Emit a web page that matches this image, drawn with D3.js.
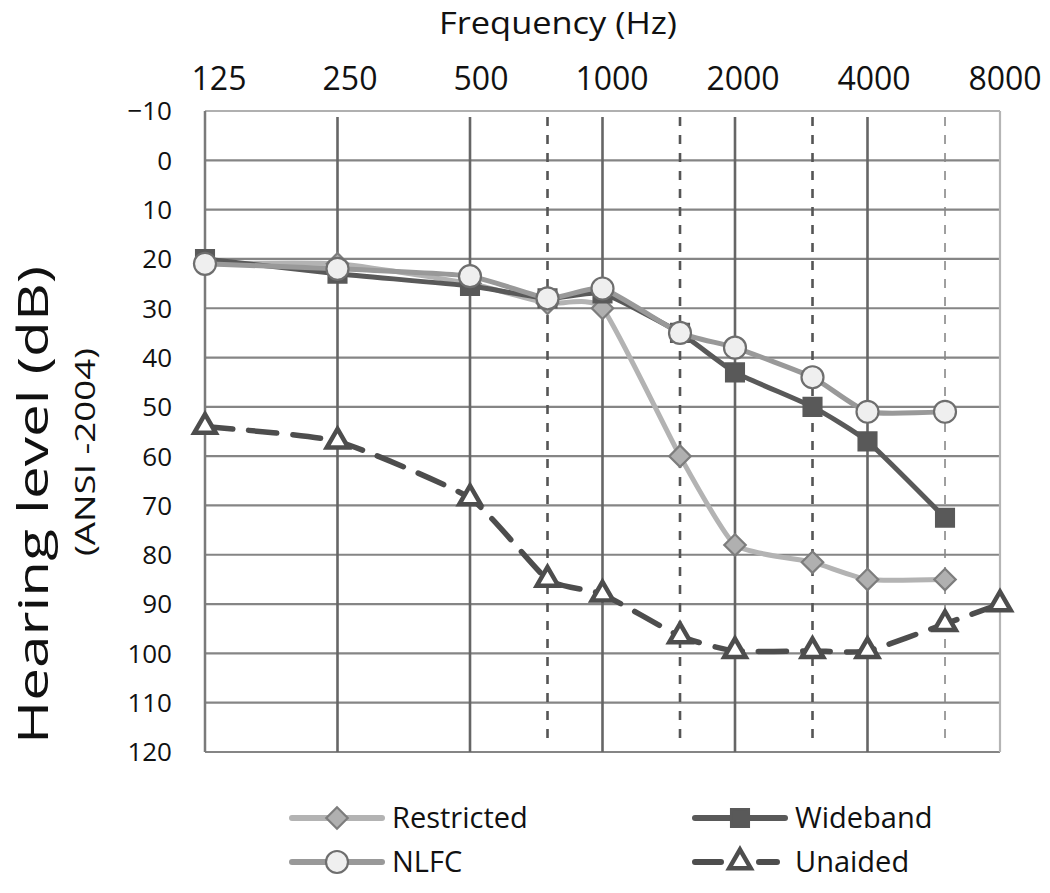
<!DOCTYPE html>
<html>
<head>
<meta charset="utf-8">
<script src="https://cdn.jsdelivr.net/npm/d3@7"></script>
<style>
  body { margin: 0; background: #fff; }
  text { font-family: "Open Sans", sans-serif; fill: #111; }
</style>
</head>
<body>
<svg id="chart" width="1050" height="893"></svg>
<script>
// data
const freqs = [125, 250, 500, 750, 1000, 1500, 2000, 3000, 4000, 6000, 8000];
const freqLabels = [125, 250, 500, 1000, 2000, 4000, 8000];
const solidLines = [250, 500, 1000, 2000, 4000];
const dashedLines = [750, 1500, 3000, 6000];
const dbTicks = d3.range(-10, 121, 10);

const restricted = [21, 21, 25, 29, 30, 60, 78, 81.5, 85, 85];
const wideband   = [20, 23, 25.5, 28, 27, 35, 43, 50, 57, 72.5];
const nlfc       = [21, 22, 23.5, 28, 26, 35, 38, 44, 51, 51];
const unaided    = [54, 57, 68.5, 85, 88, 96.5, 99.5, 99.5, 99.5, 94, 90];

const margin = {left: 205, right: 50, top: 111, bottom: 141};
const width = 1050, height = 893;

const svg = d3.select('#chart');

const x = d3.scaleLog().base(2).domain([125, 8000]).range([margin.left, width - margin.right]);
const y = d3.scaleLinear().domain([-10, 120]).range([margin.top, height - margin.bottom]);

// horizontal grid
svg.append('g')
    .selectAll('line')
    .data(dbTicks)
    .join('line')
    .attr('x1', x(125)).attr('x2', x(8000))
    .attr('y1', d => y(d)).attr('y2', d => y(d))
    .attr('stroke', d => d === -10 ? '#b0b0b0' : '#858585')
    .attr('stroke-width', 2.2);

// right border
svg.append('line')
    .attr('x1', x(8000)).attr('x2', x(8000))
    .attr('y1', y(-10)).attr('y2', y(120))
    .attr('stroke', '#b5b5b5').attr('stroke-width', 2.2);

// left axis line
svg.append('line')
    .attr('x1', x(125)).attr('x2', x(125))
    .attr('y1', y(-10)).attr('y2', y(120))
    .attr('stroke', '#7a7a7a').attr('stroke-width', 2.5);

// vertical solid octave lines
svg.append('g')
    .selectAll('line')
    .data(solidLines)
    .join('line')
    .attr('x1', d => x(d)).attr('x2', d => x(d))
    .attr('y1', y(-8.8)).attr('y2', y(120))
    .attr('stroke', '#666').attr('stroke-width', 2.6);

// dashed inter-octave lines
svg.append('g')
    .selectAll('line')
    .data(dashedLines)
    .join('line')
    .attr('x1', d => x(d)).attr('x2', d => x(d))
    .attr('y1', y(-8.8)).attr('y2', y(118.5))
    .attr('stroke', d => d === 6000 ? '#888' : '#555')
    .attr('stroke-width', d => d === 6000 ? 1.6 : 2.6)
    .attr('stroke-dasharray', '9,9');

// y tick labels
svg.append('g')
    .selectAll('text')
    .data(dbTicks)
    .join('text')
    .attr('x', 172)
    .attr('y', d => y(d))
    .attr('dy', '0.36em')
    .attr('text-anchor', 'end')
    .style('font-size', '26px')
    .text(d => d3.format('d')(d));

// top frequency labels
svg.append('g')
    .selectAll('text')
    .data(freqLabels)
    .join('text')
    .attr('x', (d, i) => x(d) + 14 - i * 1.5)
    .attr('y', 90)
    .attr('text-anchor', 'middle')
    .style('font-size', '32px')
    .text(d => d);

svg.append('text')
    .attr('x', 558).attr('y', 34)
    .attr('text-anchor', 'middle')
    .attr('textLength', 238)
    .attr('lengthAdjust', 'spacingAndGlyphs')
    .style('font-size', '31px')
    .text('Frequency (Hz)');

svg.append('text')
    .attr('transform', 'translate(48,505) rotate(-90)')
    .attr('text-anchor', 'middle')
    .attr('textLength', 478)
    .attr('lengthAdjust', 'spacingAndGlyphs')
    .style('font-size', '42px')
    .text('Hearing level (dB)');

svg.append('text')
    .attr('transform', 'translate(95,452) rotate(-90)')
    .attr('text-anchor', 'middle')
    .attr('textLength', 208)
    .attr('lengthAdjust', 'spacingAndGlyphs')
    .style('font-size', '28px')
    .text('(ANSI -2004)');

const series = [
    {name: 'Restricted', values: restricted, line: '#b3b3b3', width: 5, dash: null,
     shape: 'diamond', fill: '#b0b0b0', stroke: '#7d7d7d'},
    {name: 'Wideband', values: wideband, line: '#595959', width: 5, dash: null,
     shape: 'square', fill: '#595959', stroke: '#595959'},
    {name: 'NLFC', values: nlfc, line: '#999', width: 5, dash: null,
     shape: 'circle', fill: '#efefef', stroke: '#6e6e6e'},
    {name: 'Unaided', values: unaided, line: '#4d4d4d', width: 5.5, dash: '28,16',
     shape: 'triangle', fill: '#fff', stroke: '#4d4d4d'}
];

const symbolFor = {
    diamond: d3.symbol().type(d3.symbolSquare).size(230),
    square: d3.symbol().type(d3.symbolSquare).size(320),
    circle: d3.symbol().type(d3.symbolCircle).size(380),
    triangle: d3.symbol().type(d3.symbolTriangle).size(200)
};

const line = d3.line()
    .x(d => x(d.f))
    .y(d => y(d.v))
    .curve(d3.curveCardinal.tension(0.5));

function drawMarker(g, s, cx, cy) {
    g.append('path')
        .attr('d', symbolFor[s.shape]())
        .attr('transform', `translate(${cx},${cy})` + (s.shape === 'diamond' ? ' rotate(45)' : ''))
        .attr('fill', s.fill)
        .attr('stroke', s.stroke)
        .attr('stroke-width', s.shape === 'triangle' ? 4.5 : 2.2);
}

series.forEach(s => {
    const pts = s.values.map((v, i) => ({f: freqs[i], v: v}));
    const g = svg.append('g');
    g.append('path')
        .datum(pts)
        .attr('d', line)
        .attr('fill', 'none')
        .attr('stroke', s.line)
        .attr('stroke-width', s.width)
        .attr('stroke-linecap', s.dash ? 'round' : 'butt')
        .attr('stroke-dasharray', s.dash);
    pts.forEach(p => drawMarker(g, s, x(p.f), y(p.v)));
});

// legend
const legendPos = [[292, 818], [695, 818], [292, 862], [695, 862]];
series.forEach((s, i) => {
    const [lx, ly] = legendPos[i];
    const g = svg.append('g');
    g.append('line')
        .attr('x1', lx).attr('x2', s.dash ? lx + 82 : lx + 90)
        .attr('y1', ly).attr('y2', ly)
        .attr('stroke', s.line)
        .attr('stroke-width', 6)
        .attr('stroke-linecap', 'round')
        .attr('stroke-dasharray', s.dash ? '26,38,18' : null);
    drawMarker(g, s, lx + 45, ly);
    g.append('text')
        .attr('x', lx + 100)
        .attr('y', ly)
        .attr('dy', '0.36em')
        .style('font-size', '29px')
        .text(s.name);
});
</script>
</body>
</html>
